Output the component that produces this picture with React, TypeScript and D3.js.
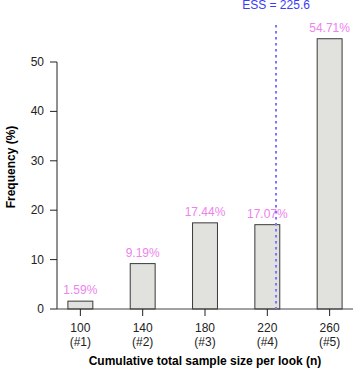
import React from 'react';
import * as d3 from 'd3';

// sample size at each look, and the share of trials stopping there
const looks = [100, 140, 180, 220, 260];
const lookLabels = ['(#1)', '(#2)', '(#3)', '(#4)', '(#5)'];
const frequency = [1.59, 9.19, 17.44, 17.07, 54.71];
const yTicks = [0, 10, 20, 30, 40, 50];
const ess = 225.6;

const W = 360, H = 378;
const font = '"Liberation Sans", Arial, Helvetica, sans-serif';

const App = () => {
    // x in sample-size units, y in percent
    const x = d3.scaleLinear().domain([85, 275]).range([57, 353]);
    const y = d3.scaleLinear().domain([0, 50]).range([309, 62]);
    const barW = 16; // in sample-size units
    const yTop = 57.5; // top of plot region

    return (
        <svg width={W} height={H} style={{ position: 'absolute', left: 0, top: 0 }}
             fontFamily={font} fontSize={12}>
            <rect width={W} height={H} fill="#fff" />

            {/* bars */}
            {looks.map((n, i) => (
                <rect key={n}
                      x={x(n - barW / 2)} y={y(frequency[i])}
                      width={x(n + barW / 2) - x(n - barW / 2)}
                      height={y(0) - y(frequency[i])}
                      fill="#e1e1dd" stroke="#3a3a3a" strokeWidth={1} />
            ))}

            {/* percentage labels */}
            {looks.map((n, i) => (
                <text key={'p' + n} x={x(n)} y={y(frequency[i]) - 7}
                      textAnchor="middle" fill="#ee82ee">
                    {frequency[i].toFixed(2) + '%'}
                </text>
            ))}

            {/* y axis */}
            <line x1={57} x2={57} y1={y(0)} y2={y(50)} stroke="#222" />
            {yTicks.map(t => (
                <g key={t}>
                    <line x1={50} x2={57} y1={y(t)} y2={y(t)} stroke="#222" />
                    <text x={44} y={y(t) + 4} textAnchor="end" fill="#222">{t}</text>
                </g>
            ))}

            {/* x baseline and ticks */}
            <line x1={x(85)} x2={x(275)} y1={y(0)} y2={y(0)} stroke="#444" />
            {looks.map((n, i) => (
                <g key={'x' + n}>
                    <line x1={x(n)} x2={x(n)} y1={y(0)} y2={y(0) + 7} stroke="#222" />
                    <text x={x(n)} y={332} textAnchor="middle" fill="#222">{n}</text>
                    <text x={x(n)} y={346} textAnchor="middle" fill="#222">{lookLabels[i]}</text>
                </g>
            ))}

            {/* axis titles */}
            <text x={205} y={365} textAnchor="middle" fontWeight="bold" fill="#000">
                Cumulative total sample size per look (n)
            </text>
            <text transform="translate(15,167) rotate(-90)" textAnchor="middle"
                  fontWeight="bold" fill="#000">
                Frequency (%)
            </text>

            {/* expected sample size */}
            <line x1={x(ess)} x2={x(ess)} y1={y(yTop)} y2={y(0)}
                  stroke="#7777ff" strokeWidth={2} strokeDasharray="2.5,3.5" />
            <text x={x(ess)} y={9} textAnchor="middle" fill="#3b3bf5">
                {'ESS = ' + ess}
            </text>
        </svg>
    );
};

export default App;
